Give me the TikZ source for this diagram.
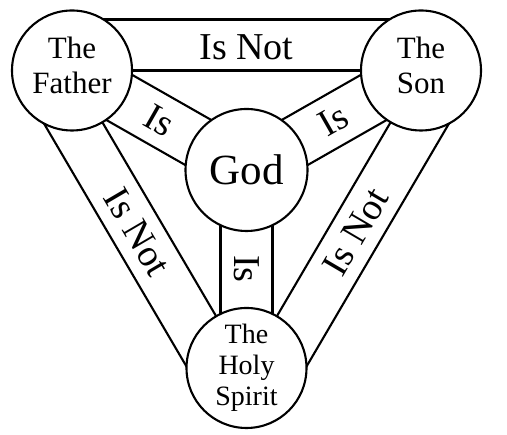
\documentclass[tikz,border=0pt]{standalone}
\usepackage{fontspec}
\setmainfont{Liberation Serif}
\usepackage{tikz}
\usetikzlibrary{calc,backgrounds}

\tikzset{
  person/.style={circle,draw,fill=white,line width=2.1pt,minimum size=120pt,inner sep=0pt,
    align=center,font=\fontsize{31}{35}\selectfont},
  band/.style={line width=2.1pt},
  rel/.style={inner sep=0pt,font=\fontsize{38}{40}\selectfont}
}

\begin{document}
\begin{tikzpicture}[x=1pt,y=1pt]
  \useasboundingbox (0,0) rectangle (507,435);
  \node[person] (father) at (72,364.5) {The\\Father\strut};
  \node[person] (son) at (421,364.5) {The\\Son\strut};
  \node[person,minimum size=122pt,font=\fontsize{43}{45}\selectfont] (god) at (246.5,265) {God};
  \node[person,font=\fontsize{28}{31}\selectfont] (spirit) at (246.5,67) {The\\Holy\\Spirit};

  \begin{scope}[on background layer]
    % bands with God
    \foreach \a/\b in {father/god,son/god,god/spirit} {
      \draw[band] ($(\a.center)!26pt!90:(\b.center)$) -- ($(\b.center)!26pt!-90:(\a.center)$);
      \draw[band] ($(\a.center)!26pt!-90:(\b.center)$) -- ($(\b.center)!26pt!90:(\a.center)$);
    }
    % outer bands
    \foreach \a/\b/\s/\t in {father/son/90/-90,father/spirit/-90/90,son/spirit/90/-90} {
      \draw[band] (\a.center) -- (\b.center);
      \draw[band] ($(\a.center)!51pt!\s:(\b.center)$) -- ($(\b.center)!51pt!\t:(\a.center)$);
    }
  \end{scope}

  \path ($(father.center)!23pt!90:(son.center)$) -- ($(son.center)!23pt!-90:(father.center)$)
    node[rel,midway] (fsnot) {Is Not};
  \path ($(father.center)!25.5pt!-90:(spirit.center)$) -- ($(spirit.center)!25.5pt!90:(father.center)$)
    node[rel,sloped,midway] (fhnot) {Is Not};
  \path ($(son.center)!25.5pt!90:(spirit.center)$) -- ($(spirit.center)!25.5pt!-90:(son.center)$)
    node[rel,sloped,midway] (shnot) {Is Not};
  \path (father.center) -- (god.center) node[rel,sloped,midway] (fgis) {Is};
  \path (son.center) -- (god.center) node[rel,sloped,midway] (sgis) {Is};
  \node[rel,rotate=-90] (hgis) at ($(god.center)!0.5!(spirit.center)$) {Is};
\end{tikzpicture}
\end{document}
